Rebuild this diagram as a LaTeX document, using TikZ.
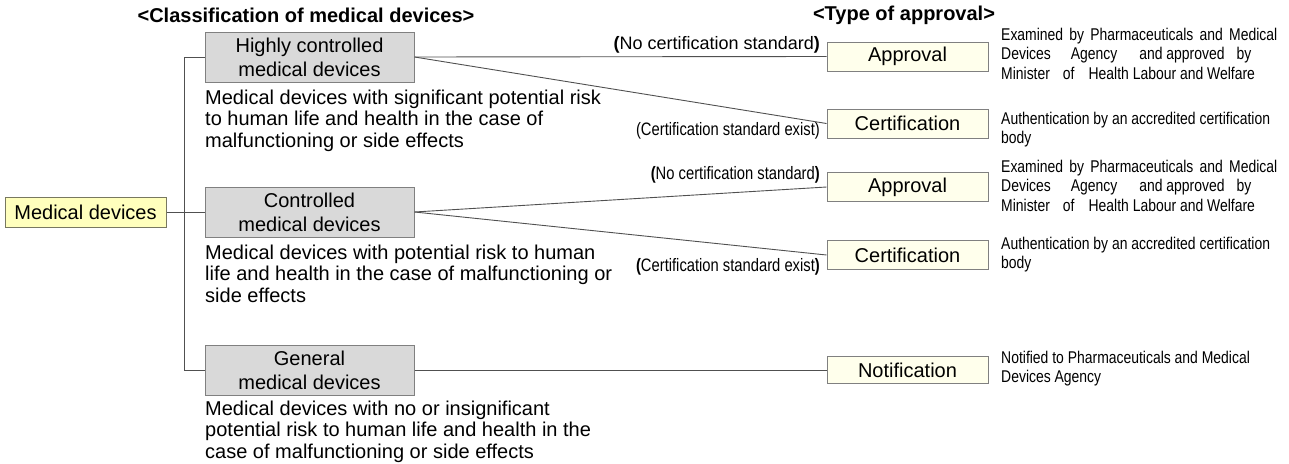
\documentclass[tikz,border=0pt]{standalone}
\usepackage{fontspec}
\setmainfont{Liberation Sans}
\newfontfamily\narrowfont{Liberation Sans}[FakeStretch=0.82]
\definecolor{rootfill}{RGB}{255,255,189}
\definecolor{rootline}{RGB}{120,120,96}
\definecolor{greyfill}{RGB}{217,217,217}
\definecolor{greyline}{RGB}{128,128,128}
\definecolor{apprfill}{RGB}{255,255,236}
\definecolor{connline}{RGB}{80,80,80}
\tikzset{
  rootbox/.style={draw=rootline, fill=rootfill, line width=1pt, inner sep=0pt,
    minimum width=161pt, minimum height=30pt, font=\fontsize{20}{24}\selectfont},
  classbox/.style={draw=greyline, fill=greyfill, line width=1pt, inner sep=0pt,
    minimum width=209pt, minimum height=50pt, align=center, font=\fontsize{20}{24}\selectfont},
  apprbox/.style={draw=greyline, fill=apprfill, line width=1pt, inner sep=0pt,
    minimum width=161pt, minimum height=29pt, font=\fontsize{20}{24}\selectfont},
  heading/.style={inner sep=0pt, font=\bfseries\fontsize{20}{24}\selectfont},
  ldesc/.style={anchor=north west, inner sep=0pt, align=left, font=\fontsize{20}{21.5}\selectfont},
  rdesc/.style={anchor=north west, inner sep=0pt, align=left, font=\narrowfont\fontsize{17}{19.5}\selectfont},
  lbl/.style={anchor=east, inner sep=0pt, font=\narrowfont\fontsize{18}{20}\selectfont},
  lblwide/.style={anchor=east, inner sep=0pt, font=\fontsize{18}{20}\selectfont},
  conn/.style={draw=connline, line width=0.9pt}
}
\begin{document}
\begin{tikzpicture}[x=1pt,y=-1pt]
\useasboundingbox (0,0) rectangle (1289,463);

% headings
\node[heading] (h1) at (306,15) {<Classification of medical devices>};
\node[heading] (h2) at (904,15) {<Type of approval>};

% root and classes
\node[rootbox] (md) at (85.5,212) {Medical devices};
\node[classbox] (hc) at (309.5,57) {Highly controlled\\medical devices};
\node[classbox] (cd) at (309.5,212) {Controlled\\medical devices};
\node[classbox] (gd) at (309.5,370) {General\\medical devices};

% class descriptions
\node[ldesc] (hcd) at (205,89.5) {Medical devices with significant potential risk\\to human life and health in the case of\\malfunctioning or side effects};
\node[ldesc] (cdd) at (205,244.5) {Medical devices with potential risk to human\\life and health in the case of malfunctioning or\\side effects};
\node[ldesc] (gdd) at (205,400.5) {Medical devices with no or insignificant\\potential risk to human life and health in the\\case of malfunctioning or side effects};

% approval type boxes
\node[apprbox] (ap1) at (907.5,56.5) {Approval};
\node[apprbox] (ce1) at (907.5,123.5) {Certification};
\node[apprbox] (ap2) at (907.5,187) {Approval};
\node[apprbox] (ce2) at (907.5,255) {Certification};
\node[apprbox, minimum height=27pt] (no) at (907.5,370) {Notification};

% labels
\node[lblwide] (l1) at (820,45) {\textbf{(}No certification standard\textbf{)}};
\node[lbl] (l2) at (820,131) {(Certification standard exist)};
\node[lbl] (l3) at (820,175) {\textbf{(}No certification standard\textbf{)}};
\node[lbl] (l4) at (820,267) {\textbf{(}Certification standard exist\textbf{)}};

% right descriptions
\node[rdesc] (d1) at (1001,27.6) {\makebox[276pt][s]{Examined by Pharmaceuticals and Medical}\\Devices\hspace{20pt}Agency\hspace{22pt}and approved\hspace{12pt}by\\Minister\hspace{13pt}of\hspace{14pt}Health Labour and Welfare};
\node[rdesc] (d2) at (1001,111.5) {Authentication by an accredited certification\\body};
\node[rdesc] (d3) at (1001,159.6) {\makebox[276pt][s]{Examined by Pharmaceuticals and Medical}\\Devices\hspace{20pt}Agency\hspace{22pt}and approved\hspace{12pt}by\\Minister\hspace{13pt}of\hspace{14pt}Health Labour and Welfare};
\node[rdesc] (d4) at (1001,236.6) {Authentication by an accredited certification\\body};
\node[rdesc] (d5) at (1001,350.6) {Notified to Pharmaceuticals and Medical\\Devices Agency};

% connectors
\draw[conn] (md.east) -- (cd.west);
\draw[conn] (hc.west) -- ++(-20,0) |- (gd.west);
\draw[conn] (hc.east) -- (ap1.west);
\draw[conn] (hc.east) -- (ce1.west);
\draw[conn] (cd.east) -- (ap2.west);
\draw[conn] (cd.east) -- (ce2.west);
\draw[conn] (gd.east) -- (no.west);
\end{tikzpicture}
\end{document}
